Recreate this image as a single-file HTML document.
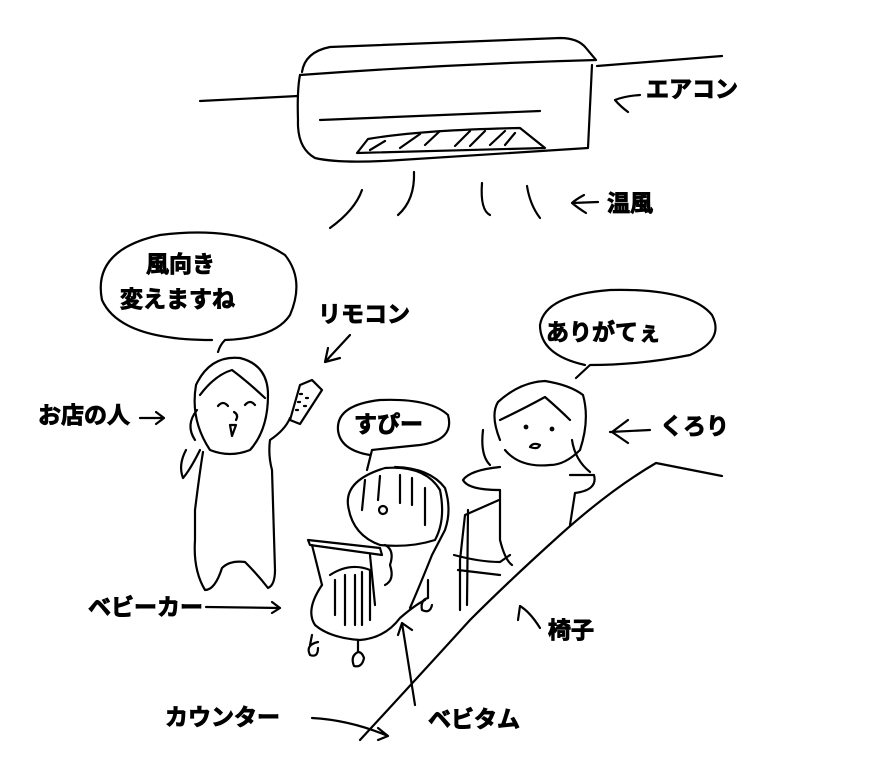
<!DOCTYPE html>
<html><head><meta charset="utf-8"><style>
html,body{margin:0;padding:0;background:#fff}
svg{display:block}
text{font-family:"Liberation Sans","Noto Sans CJK JP",sans-serif;font-weight:bold;font-size:23px;fill:#000;stroke:#000;stroke-width:0.9}
path,ellipse,circle{fill:none;stroke:#000;stroke-width:2.2;stroke-linecap:round;stroke-linejoin:round}
</style></head><body>
<svg width="890" height="782" viewBox="0 0 890 782">
<!-- aircon -->
<path d="M200 101 L298 96"/>
<path d="M597 66 L722 56"/>
<path d="M302 72 Q305 52 330 47 L560 38 Q578 38 586 48 L596 60 Q450 64 300 75"/>
<path d="M300 75 Q297 90 298 120 Q297 148 315 158 Q340 164 400 160 L588 148 L592 65"/>
<path d="M320 120 L540 111"/>
<path d="M357 153 L368 139 Q420 130 520 128 L545 148 Z"/>
<path d="M370 150 L385 141 M400 148 L420 134 M425 145 L440 131 M455 146 L470 131 M470 146 L485 131 M490 145 L505 131 M505 145 L515 133"/>
<!-- warm air -->
<path d="M362 190 Q355 210 330 228"/>
<path d="M414 172 Q415 200 398 215"/>
<path d="M482 183 Q480 210 490 215"/>
<path d="M527 186 Q530 205 540 218"/>
<path d="M598 202 L572 203 M584 195 Q575 200 572 203 Q578 208 586 213"/>
<text x="607" y="211">温風</text>
<path d="M640 95 Q625 96 615 100 Q620 106 628 112"/>
<text x="646" y="97">エアコン</text>
<!-- bubble 1 -->
<path d="M212 340 Q120 340 102 300 Q92 250 160 235 Q240 225 285 255 Q305 280 290 315 Q275 338 225 340 Q220 345 218 352"/>
<text x="146" y="272">風向き</text>
<text x="120" y="307">変えますね</text>
<text x="318" y="322">リモコン</text>
<path d="M350 335 L325 362 M325 362 L328 348 M325 362 L340 358"/>
<text x="38" y="423">お店の人</text>
<path d="M140 418 L164 418 M156 412 L164 418 L156 424"/>
<!-- person 1 -->
<path d="M210 450 Q190 420 196 385 Q210 355 240 358 Q268 365 268 395 Q268 430 250 450 Q230 458 210 450 Z"/>
<path d="M200 395 Q215 375 232 370 Q248 382 265 398"/>
<path d="M218 406 Q223 400 228 406 M245 405 Q250 399 255 405"/>
<path d="M234 412 Q239 415 236 420 M230 425 L232 436 L236 425 Z"/>
<path d="M197 410 Q185 425 195 440"/>
<path d="M203 452 Q200 470 195 510 L195 540 Q193 570 205 590 Q215 590 222 568 Q230 560 245 562 Q258 575 268 588 Q275 585 275 570 L272 470 Q268 455 270 440 Q285 430 290 418"/>
<path d="M200 450 Q190 470 183 478 Q178 465 186 450"/>
<!-- remote -->
<path d="M300 385 L290 420 L300 424 L322 390 L312 380 Z"/>
<path d="M300 394 L302 394 M298 402 L300 402 M296 410 L298 410 M306 398 L308 398 M304 406 L306 406"/>
<!-- bubble すぴー -->
<path d="M370 455 Q340 450 338 430 Q336 405 380 400 Q430 398 448 415 Q455 440 420 445 Q390 448 372 450 L367 470"/>
<text x="354" y="432">すぴー</text>
<!-- stroller -->
<path d="M348 505 Q345 480 385 468 Q425 465 440 490 Q446 520 435 540 Q410 548 380 545 Q352 535 348 505 Z"/>
<path d="M395 467 Q430 468 445 488 Q452 510 445 530 L432 555 Q420 585 410 608"/>
<path d="M365 480 L362 510 M380 476 L378 500 M400 475 L400 503 M412 478 L412 505 M425 488 L425 525"/>
<circle cx="383" cy="510" r="4"/>
<path d="M308 540 L380 548 L382 555 L310 545 Z"/>
<path d="M312 545 L322 585 M370 555 L375 605"/>
<path d="M322 585 Q305 610 315 625 Q330 638 360 640 Q385 638 400 618 Q415 605 425 600"/>
<path d="M330 575 Q350 562 370 570 L370 620 M335 580 L335 615 M345 575 L345 625 M355 575 L355 625 M362 572 L362 625"/>
<path d="M385 545 Q395 550 390 565 Q395 580 385 585"/>
<path d="M312 635 L310 645 M318 642 Q305 645 310 655 Q318 658 318 648"/>
<path d="M358 640 L358 652 M358 652 Q350 656 354 666 Q362 668 364 658 Q362 652 358 652"/>
<path d="M428 580 L428 598 M428 598 Q420 600 422 610 Q430 614 432 605"/>
<!-- bubble 2 -->
<path d="M585 365 Q540 355 540 325 Q545 295 610 290 Q690 288 712 315 Q725 340 690 355 Q640 365 590 365 L576 378"/>
<text x="546" y="340">ありがてぇ</text>
<!-- person 2 -->
<path d="M500 440 Q490 415 498 402 Q520 382 545 381 Q570 385 583 395 Q590 420 580 450 Q565 465 550 465 Q520 468 505 450"/>
<path d="M500 420 Q525 408 545 397 Q560 410 570 420"/>
<circle cx="526" cy="427" r="1.3"/><circle cx="552" cy="429" r="1.3"/>
<path d="M530 447 Q538 450 540 445 Q533 442 530 447"/>
<path d="M483 430 Q480 455 490 465 M572 440 Q575 460 590 472"/>
<path d="M500 467 Q470 470 463 480 Q468 490 500 490 L500 540 Q505 560 512 565"/>
<path d="M570 475 Q585 475 594 475 Q598 490 575 493 L570 525"/>
<!-- chair -->
<path d="M499 500 L465 515 L460 560 L460 610 M468 510 L467 605 M454 555 Q480 562 500 562 L510 555 M458 570 L500 575"/>
<path d="M610 432 L650 430 M612 432 L628 420 M612 432 L628 443"/>
<text x="660" y="434">くろり</text>
<!-- counter -->
<path d="M360 740 Q420 675 470 620 Q510 580 560 535 Q610 490 656 463 L722 476"/>
<path d="M520 606 Q530 612 540 628 M520 606 L518 620"/>
<text x="548" y="638">椅子</text>
<text x="88" y="615">ベビーカー</text>
<path d="M206 607 L280 608 M272 602 L280 608 L272 613"/>
<text x="165" y="725">カウンター</text>
<path d="M312 718 Q350 720 388 736 M378 728 L388 736 L378 740"/>
<path d="M402 623 L415 705 M402 623 L398 635 M402 623 L412 630"/>
<text x="428" y="727">ベビタム</text>
</svg>
</body></html>
